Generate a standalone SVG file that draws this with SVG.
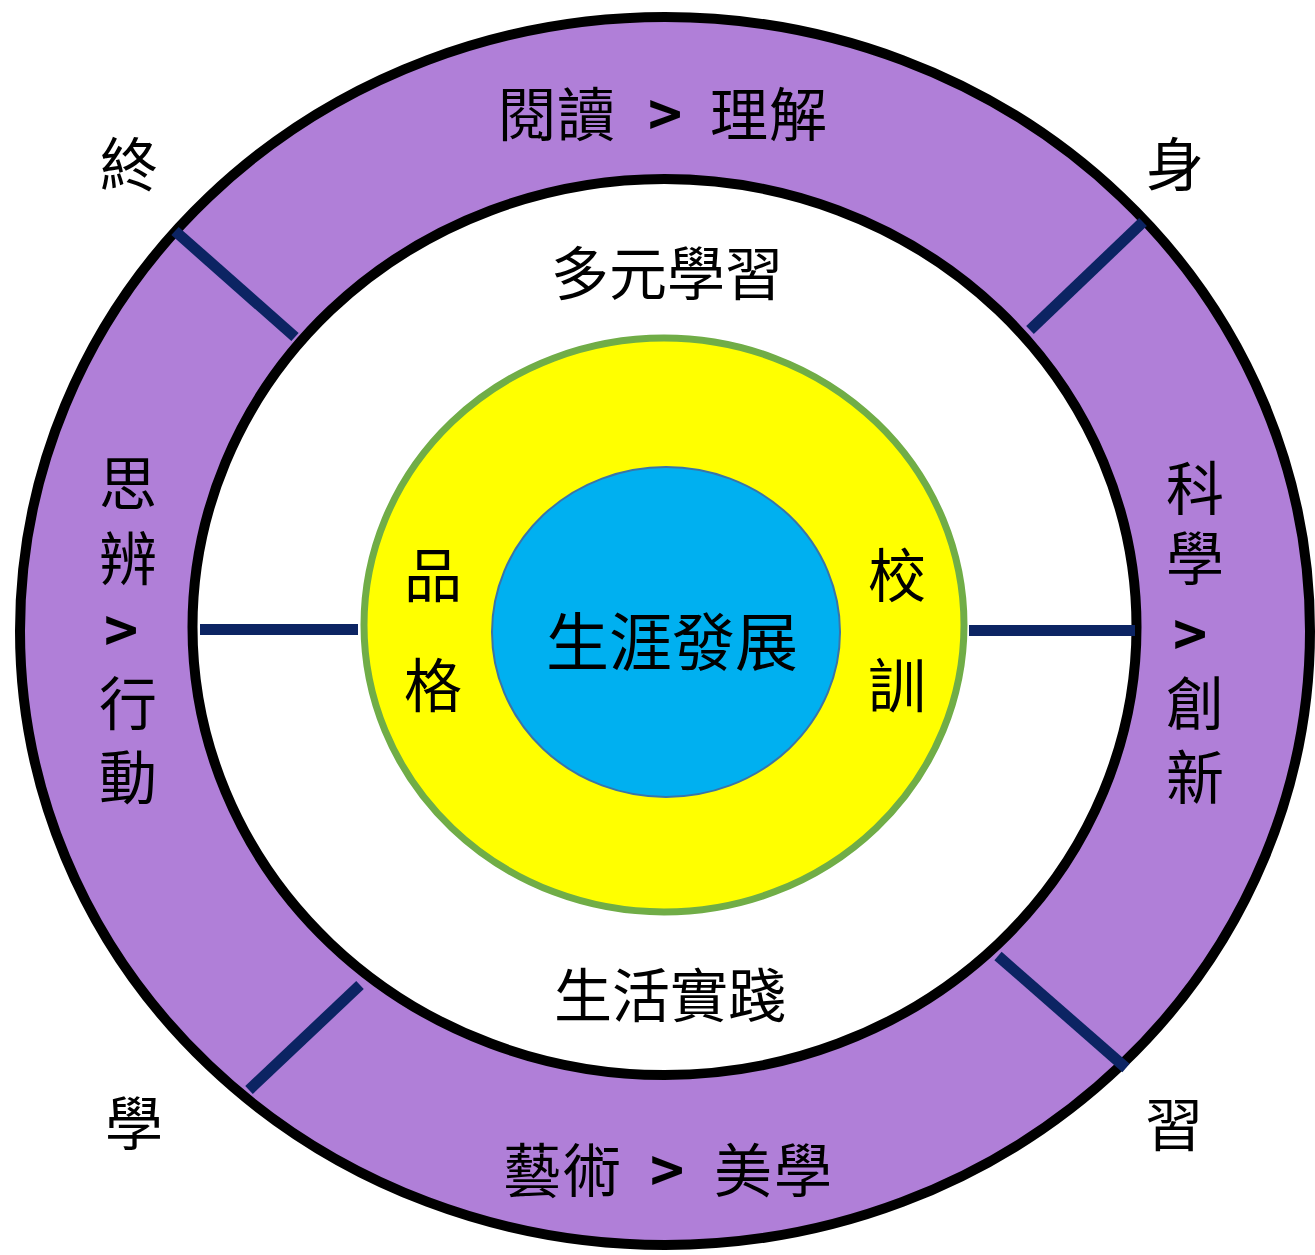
<svg xmlns="http://www.w3.org/2000/svg" width="1315" height="1255" viewBox="0 0 1315 1255">
  <style>
    .t { font-family: "Noto Sans CJK TC", "Noto Sans CJK SC", "Noto Sans CJK JP", sans-serif; font-size: 58px; font-weight: 400; fill: #000; text-anchor: middle; dominant-baseline: central; }
    .big { font-size: 63px; }
    .gt { font-weight: 700; }
    .conn { stroke: #0c2463; stroke-width: 11; fill: none; }
  </style>
  <rect x="0" y="0" width="1315" height="1255" fill="#ffffff"/>

  <g id="outer-ring">
    <ellipse cx="665" cy="631" rx="645" ry="614" fill="#b07fd8" stroke="#000" stroke-width="10"/>
  </g>
  <g id="middle-circle">
    <ellipse cx="664.5" cy="627" rx="472" ry="448" fill="#ffffff" stroke="#000" stroke-width="10"/>
  </g>
  <g id="yellow-circle">
    <ellipse cx="664" cy="625" rx="300" ry="287" fill="#ffff00" stroke="#70ad47" stroke-width="7"/>
  </g>
  <g id="blue-circle">
    <ellipse cx="666" cy="632" rx="174" ry="165" fill="#00b0f0" stroke="#3a74a8" stroke-width="2"/>
  </g>

  <g id="connectors">
    <line class="conn" x1="175" y1="231" x2="295" y2="337"/>
    <line class="conn" x1="1143" y1="222" x2="1030" y2="330"/>
    <line class="conn" x1="360" y1="985" x2="249" y2="1090"/>
    <line class="conn" x1="998" y1="956" x2="1126" y2="1068"/>
    <line class="conn" x1="200" y1="629.5" x2="358" y2="629.5"/>
    <line class="conn" x1="969" y1="630.5" x2="1135" y2="630.5"/>
  </g>

  <g id="label-top">
    <text class="t" x="527 586 626" y="111">閱讀 <tspan class="gt" x="665">&gt;</tspan><tspan x="702 739 798"> 理解</tspan></text>
  </g>
  <g id="label-bottom">
    <text class="t" x="532 592 630" y="1167">藝術 <tspan class="gt" x="667">&gt;</tspan><tspan x="705 743 803"> 美學</tspan></text>
  </g>
  <g id="label-left">
    <text class="t" x="128 128" y="480 555">思辨<tspan class="gt" x="121" y="627">&gt;</tspan><tspan x="128 128" y="700 774">行動</tspan></text>
  </g>
  <g id="label-right">
    <text class="t" x="1195 1195" y="485 555">科學<tspan class="gt" x="1190" y="631">&gt;</tspan><tspan x="1195 1195" y="700 774">創新</tspan></text>
  </g>
  <g id="label-multi">
    <text class="t" x="667" y="270">多元學習</text>
  </g>
  <g id="label-life">
    <text class="t" x="670" y="992">生活實踐</text>
  </g>
  <g id="label-character">
    <text class="t" x="433 433" y="572 682">品格</text>
  </g>
  <g id="label-motto">
    <text class="t" x="897 897" y="572 682">校訓</text>
  </g>
  <g id="label-center">
    <text class="t big" x="672" y="637">生涯發展</text>
  </g>
  <g id="corner-labels">
    <text class="t" x="129" y="161">終</text>
    <text class="t" x="1175" y="161">身</text>
    <text class="t" x="134" y="1120">學</text>
    <text class="t" x="1174" y="1121">習</text>
  </g>
</svg>
